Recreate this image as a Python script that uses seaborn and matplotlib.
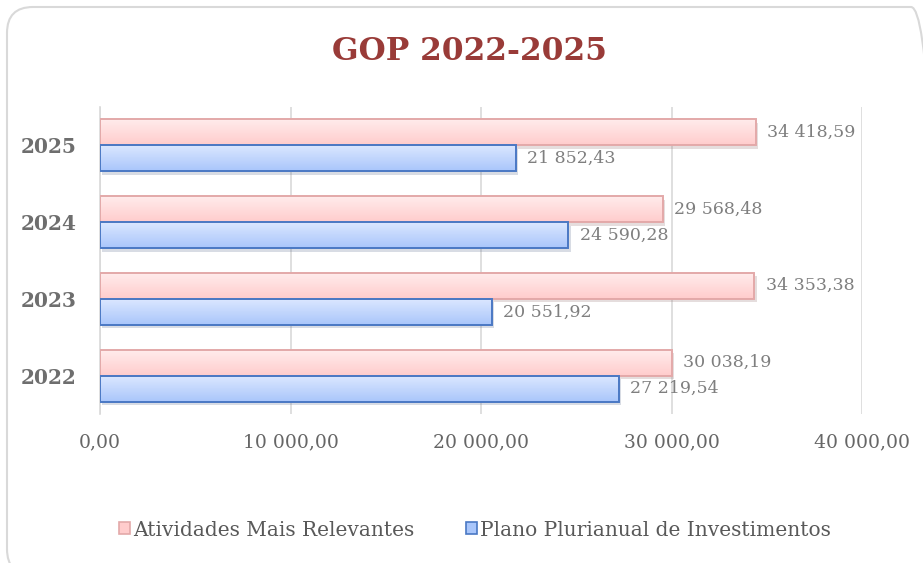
import numpy as np
import pandas as pd
import matplotlib
matplotlib.use("Agg")
import matplotlib.pyplot as plt
import matplotlib.patheffects as pe
from matplotlib.patches import Rectangle, FancyBboxPatch
from matplotlib.colors import LinearSegmentedColormap
from matplotlib.transforms import IdentityTransform
import seaborn as sns

# data
years = ["2025", "2024", "2023", "2022"]
atividades = [34418.59, 29568.48, 34353.38, 30038.19]
plano = [21852.43, 24590.28, 20551.92, 27219.54]
series_names = ["Atividades Mais Relevantes", "Plano Plurianual de Investimentos"]
x_ticks = [0, 10000, 20000, 30000, 40000]


def fmt(v):
    # 34 418,59 style
    return f"{v:,.2f}".replace(",", " ").replace(".", ",")


df = pd.DataFrame({
    "ano": years * 2,
    "valor": atividades + plano,
    "serie": [series_names[0]] * 4 + [series_names[1]] * 4,
})

sns.set_style("white")
plt.rcParams["font.family"] = ["DejaVu Serif"]

# top colour, bottom colour, edge
styles = {
    series_names[0]: ("#ffeded", "#ffcccc", "#e3a9a9"),
    series_names[1]: ("#dde8ff", "#a9c6fb", "#4a78c4"),
}

fig = plt.figure(figsize=(9.23, 5.63), dpi=100)
ax = fig.add_axes([100 / 923, 1 - 414 / 563, 762 / 923, 307 / 563])

sns.barplot(data=df, y="ano", x="valor", hue="serie", order=years,
            hue_order=series_names, orient="h", width=0.68, ax=ax,
            legend=False, saturation=1)

xlim = (0, 40000)
ylim = ax.get_ylim()

for container, name in zip(ax.containers, series_names):
    top_c, bot_c, edge_c = styles[name]
    cmap = LinearSegmentedColormap.from_list(name, [top_c, bot_c])
    grad = np.linspace(0, 1, 64).reshape(-1, 1)
    for bar, v in zip(container.patches, container.datavalues):
        bar.set_facecolor(bot_c)
        bar.set_edgecolor("none")
        bar.set_path_effects([pe.SimplePatchShadow(offset=(1.5, -2.5), alpha=0.25, rho=0.6), pe.Normal()])
        x0 = bar.get_x()
        y0 = bar.get_y()
        h = bar.get_height()
        w = bar.get_width()
        im = ax.imshow(grad, cmap=cmap, aspect="auto", origin="upper",
                       extent=(x0, x0 + w, y0 + h, y0), zorder=3)
        im.set_clip_path(bar)
        ax.add_patch(Rectangle((x0, y0), w, h, facecolor="none",
                               edgecolor=edge_c, lw=1.4, zorder=4))
        ax.annotate(fmt(v), (x0 + w, y0 + h / 2), xytext=(8, 0),
                    textcoords="offset points", va="center", ha="left",
                    fontsize=12.5, color="#7f7f7f", family="DejaVu Serif")

ax.set_xlim(*xlim)
ax.set_ylim(*ylim)
ax.set_xticks(x_ticks)
ax.set_xticklabels([fmt(t) for t in x_ticks], fontsize=13.5, color="#666666",
                   family="DejaVu Serif")
ax.tick_params(axis="x", length=0, pad=14)
ax.tick_params(axis="y", length=0, pad=17)
for lab in ax.get_yticklabels():
    lab.set_fontsize(14.5)
    lab.set_fontweight("bold")
    lab.set_color("#6e6e6e")
    lab.set_family("DejaVu Serif")
ax.set_xlabel("")
ax.set_ylabel("")
ax.grid(axis="x", color="#d9d9d9", lw=1.2)
ax.set_axisbelow(True)
for s in ["top", "right", "bottom"]:
    ax.spines[s].set_visible(False)
ax.spines["left"].set_color("#d9d9d9")
ax.spines["left"].set_linewidth(1.2)

fig.text(469 / 923, 1 - 51 / 563, "GOP 2022-2025", ha="center", va="center",
         fontsize=22.5, fontweight="bold", color="#993b38", family="DejaVu Serif")

# legend
handles = [Rectangle((0, 0), 1, 1, facecolor=styles[n][1], edgecolor=styles[n][2], lw=1.2)
           for n in series_names]
leg = fig.legend(handles, series_names, loc="center", bbox_to_anchor=(475 / 923, 1 - 530 / 563),
                 ncol=2, frameon=False, prop={"family": "DejaVu Serif", "size": 14.5},
                 handlelength=0.55, handleheight=0.55,
                 handletextpad=0.15, columnspacing=2.6)
for t in leg.get_texts():
    t.set_color("#595959")

# rounded chart border, in pixels
frame = FancyBboxPatch((7, -12), 930, 568,
                       boxstyle="round,pad=0,rounding_size=26",
                       transform=IdentityTransform(), facecolor="none",
                       edgecolor="#d9d9d9", lw=1.5)
fig.patches.append(frame)

fig.savefig("out.png", dpi=100)
